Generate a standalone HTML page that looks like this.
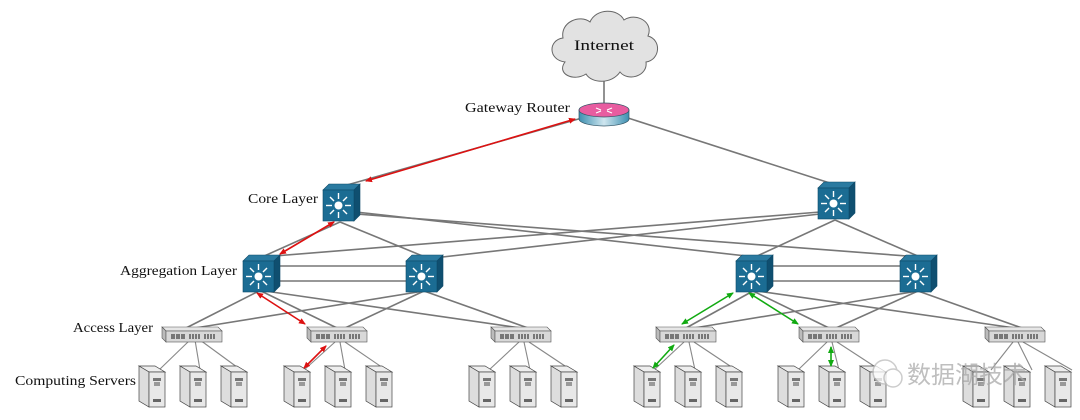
<!DOCTYPE html>
<html><head><meta charset="utf-8"><style>
html,body{margin:0;padding:0;background:#fff;}
svg{display:block;}
text{font-family:"Liberation Serif","Noto Serif CJK SC",serif;fill:#111;}
</style></head><body>
<svg width="1080" height="420" viewBox="0 0 1080 420" xmlns="http://www.w3.org/2000/svg">
<defs>
<linearGradient id="rg" x1="0" x2="1"><stop offset="0" stop-color="#3d8fb0"/><stop offset="0.5" stop-color="#cfe6ef"/><stop offset="1" stop-color="#3d8fb0"/></linearGradient>
<g id="core">
 <polygon points="0,6 6,0 37,0 31,6" fill="#2a7aa0" stroke="#0d4a68" stroke-width="0.6"/>
 <polygon points="31,6 37,0 37,31 31,37" fill="#0f4f70" stroke="#0d4a68" stroke-width="0.6"/>
 <rect x="0" y="6" width="31" height="31" fill="#1b6c93" stroke="#0d4a68" stroke-width="0.6"/>
 <circle cx="15.5" cy="21.5" r="4" fill="#fff"/>
 <g stroke="#fff" stroke-width="1.4">
  <line x1="15.5" y1="9" x2="15.5" y2="15"/><line x1="15.5" y1="28" x2="15.5" y2="34"/>
  <line x1="3" y1="21.5" x2="9" y2="21.5"/><line x1="22" y1="21.5" x2="28" y2="21.5"/>
  <line x1="7" y1="13" x2="11" y2="17"/><line x1="20" y1="26" x2="24" y2="30"/>
  <line x1="24" y1="13" x2="20" y2="17"/><line x1="11" y1="26" x2="7" y2="30"/>
 </g>
</g>
<g id="acc">
 <polygon points="0,0 56,0 60,4 4,4" fill="#e6e6e6" stroke="#555" stroke-width="0.6"/>
 <polygon points="0,0 4,4 4,15 0,11" fill="#bbb" stroke="#555" stroke-width="0.6"/>
 <rect x="4" y="4" width="56" height="11" fill="#d8d8d8" stroke="#555" stroke-width="0.6"/>
 <g fill="#777"><rect x="9" y="7" width="4" height="5"/><rect x="14" y="7" width="4" height="5"/><rect x="19" y="7" width="4" height="5"/>
 <rect x="27" y="7" width="2" height="5"/><rect x="30" y="7" width="2" height="5"/><rect x="33" y="7" width="2" height="5"/><rect x="36" y="7" width="2" height="5"/>
 <rect x="42" y="7" width="2" height="5"/><rect x="45" y="7" width="2" height="5"/><rect x="48" y="7" width="2" height="5"/><rect x="51" y="7" width="2" height="5"/></g>
</g>
<g id="srv">
 <polygon points="0,0 16,0 26,6 10,6" fill="#eee" stroke="#444" stroke-width="0.7"/>
 <polygon points="0,0 10,6 10,41 0,35" fill="#ddd" stroke="#444" stroke-width="0.7"/>
 <rect x="10" y="6" width="16" height="35" fill="#e8e8e8" stroke="#444" stroke-width="0.7"/>
 <rect x="14" y="12" width="8" height="3" fill="#777"/><rect x="15" y="16" width="6" height="4" fill="#999"/>
 <rect x="14" y="33" width="8" height="3" fill="#666"/>
</g>
<marker id="ar" markerWidth="8" markerHeight="8" refX="6" refY="3" orient="auto-start-reverse" markerUnits="userSpaceOnUse"><path d="M0,0 L7,3 L0,6 z" fill="#d11"/></marker>
<marker id="ag" markerWidth="8" markerHeight="8" refX="6" refY="3" orient="auto-start-reverse" markerUnits="userSpaceOnUse"><path d="M0,0 L7,3 L0,6 z" fill="#1a1"/></marker>
</defs>

<g stroke="#777" stroke-width="1.6" fill="none">
 <line x1="604" y1="80" x2="604" y2="105"/>
 <line x1="582" y1="118" x2="340" y2="187"/>
 <line x1="628" y1="118" x2="836" y2="185"/>
 <line x1="340" y1="222" x2="262" y2="257"/><line x1="340" y1="222" x2="425" y2="257"/>
 <line x1="356" y1="212" x2="755" y2="257"/><line x1="356" y1="214" x2="920" y2="257"/>
 <line x1="835" y1="220" x2="755" y2="257"/><line x1="835" y1="220" x2="920" y2="257"/>
 <line x1="820" y1="212" x2="262" y2="257"/><line x1="820" y1="214" x2="425" y2="259"/>
 <line x1="280" y1="266" x2="408" y2="266"/><line x1="280" y1="281" x2="408" y2="281"/>
 <line x1="772" y1="266" x2="902" y2="266"/><line x1="772" y1="281" x2="902" y2="281"/>
 <line x1="259" y1="291" x2="186" y2="328"/><line x1="261" y1="291" x2="337" y2="328"/><line x1="265" y1="291" x2="521" y2="328"/>
 <line x1="424" y1="291" x2="195" y2="328"/><line x1="424" y1="291" x2="345" y2="328"/><line x1="424" y1="291" x2="528" y2="328"/>
 <line x1="753" y1="291" x2="686" y2="328"/><line x1="753" y1="291" x2="829" y2="328"/><line x1="757" y1="291" x2="1015" y2="328"/>
 <line x1="918" y1="291" x2="694" y2="328"/><line x1="918" y1="291" x2="836" y2="328"/><line x1="918" y1="291" x2="1022" y2="328"/>
</g>
<g stroke="#888" stroke-width="1.1">
 <line x1="190" y1="340" x2="159" y2="370"/><line x1="195" y1="340" x2="200" y2="370"/><line x1="200" y1="340" x2="241" y2="370"/>
 <line x1="335" y1="342" x2="304" y2="370"/><line x1="340" y1="342" x2="345" y2="370"/><line x1="345" y1="342" x2="386" y2="370"/>
 <line x1="519" y1="342" x2="489" y2="370"/><line x1="524" y1="342" x2="530" y2="370"/><line x1="529" y1="342" x2="571" y2="370"/>
 <line x1="684" y1="342" x2="654" y2="370"/><line x1="689" y1="342" x2="695" y2="370"/><line x1="694" y1="342" x2="736" y2="370"/>
 <line x1="827" y1="342" x2="798" y2="370"/><line x1="832" y1="342" x2="839" y2="370"/><line x1="837" y1="342" x2="880" y2="370"/>
 <line x1="1013" y1="342" x2="991" y2="370"/><line x1="1018" y1="342" x2="1032" y2="370"/><line x1="1023" y1="342" x2="1072" y2="370"/>
</g>

<g fill="#e2e2e2" stroke="#666" stroke-width="1">
 <path d="M565,62 C548,60 548,40 563,38 C560,22 580,14 590,22 C596,8 618,8 624,20 C636,12 654,22 648,36 C662,40 660,60 646,62 C648,76 628,82 620,72 C612,84 592,84 586,74 C574,82 556,74 565,62 Z"/>
</g>
<text x="574" y="50" font-size="15" textLength="60" lengthAdjust="spacingAndGlyphs">Internet</text>

<g>
 <path d="M579,110 L579,119 A25,7 0 0 0 629,119 L629,110 Z" fill="url(#rg)" stroke="#356" stroke-width="0.7"/>
 <ellipse cx="604" cy="110" rx="25" ry="7" fill="#e85ca0" stroke="#356" stroke-width="0.7"/>
 <g stroke="#fff" stroke-width="1.2"><line x1="596" y1="108" x2="601" y2="110"/><line x1="612" y1="108" x2="607" y2="110"/><line x1="596" y1="113" x2="601" y2="111"/><line x1="612" y1="113" x2="607" y2="111"/></g>
</g>

<use href="#core" x="323" y="184"/>
<use href="#core" x="818" y="182"/>
<use href="#core" x="243" y="255"/>
<use href="#core" x="406" y="255"/>
<use href="#core" x="736" y="255"/>
<use href="#core" x="900" y="255"/>

<use href="#acc" x="162" y="327"/>
<use href="#acc" x="307" y="327"/>
<use href="#acc" x="491" y="327"/>
<use href="#acc" x="656" y="327"/>
<use href="#acc" x="799" y="327"/>
<use href="#acc" x="985" y="327"/>

<use href="#srv" x="139" y="366"/><use href="#srv" x="180" y="366"/><use href="#srv" x="221" y="366"/>
<use href="#srv" x="284" y="366"/><use href="#srv" x="325" y="366"/><use href="#srv" x="366" y="366"/>
<use href="#srv" x="469" y="366"/><use href="#srv" x="510" y="366"/><use href="#srv" x="551" y="366"/>
<use href="#srv" x="634" y="366"/><use href="#srv" x="675" y="366"/><use href="#srv" x="716" y="366"/>
<use href="#srv" x="778" y="366"/><use href="#srv" x="819" y="366"/><use href="#srv" x="860" y="366"/>
<use href="#srv" x="963" y="366"/><use href="#srv" x="1004" y="366"/><use href="#srv" x="1045" y="366"/>

<g stroke="#d11" stroke-width="1.6" fill="none">
 <line x1="575" y1="119" x2="366" y2="181" marker-start="url(#ar)" marker-end="url(#ar)"/>
 <line x1="334" y1="222" x2="280" y2="254" marker-start="url(#ar)" marker-end="url(#ar)"/>
 <line x1="257" y1="293" x2="305" y2="324" marker-start="url(#ar)" marker-end="url(#ar)"/>
 <line x1="326" y1="346" x2="304" y2="368" marker-start="url(#ar)" marker-end="url(#ar)"/>
</g>
<g stroke="#1a1" stroke-width="1.6" fill="none">
 <line x1="733" y1="293" x2="682" y2="324" marker-start="url(#ag)" marker-end="url(#ag)"/>
 <line x1="749" y1="293" x2="798" y2="324" marker-start="url(#ag)" marker-end="url(#ag)"/>
 <line x1="674" y1="345" x2="653" y2="368" marker-start="url(#ag)" marker-end="url(#ag)"/>
 <line x1="831" y1="347" x2="831" y2="366" marker-start="url(#ag)" marker-end="url(#ag)"/>
</g>

<g font-size="14">
 <text x="465" y="112" textLength="105" lengthAdjust="spacingAndGlyphs">Gateway Router</text>
 <text x="248" y="203" textLength="70" lengthAdjust="spacingAndGlyphs">Core Layer</text>
 <text x="120" y="275" textLength="117" lengthAdjust="spacingAndGlyphs">Aggregation Layer</text>
 <text x="73" y="332" textLength="80" lengthAdjust="spacingAndGlyphs">Access Layer</text>
 <text x="15" y="385" textLength="121" lengthAdjust="spacingAndGlyphs">Computing Servers</text>
</g>

<g opacity="0.75">
 <circle cx="885" cy="372" r="12" fill="#fff" stroke="#bbb" stroke-width="1.5"/>
 <circle cx="893" cy="378" r="9" fill="#fff" stroke="#bbb" stroke-width="1.5"/>
 <text x="907" y="383" font-size="24" style="font-family:'Noto Sans CJK SC',sans-serif;fill:#aaa">数据湖技术</text>
</g>
</svg>
</body></html>
